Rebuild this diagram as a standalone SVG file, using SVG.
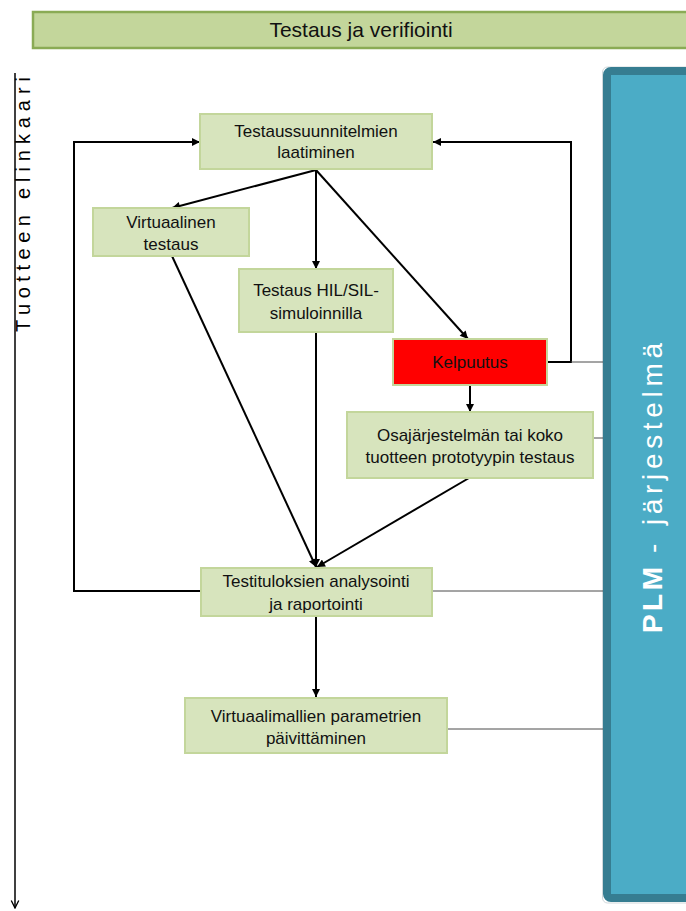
<svg xmlns="http://www.w3.org/2000/svg" width="686" height="911" viewBox="0 0 686 911">
  <style>
    .node rect { fill: #d7e4bd; stroke: #c3d69b; stroke-width: 2; }
    .node text, .hdr text { font-family: "Liberation Sans", Arial, sans-serif; font-size: 17px; fill: #111; text-anchor: middle; }
    .hdr text { font-size: 21px; }
    .flow { fill: none; stroke: #000; stroke-width: 2; }
    .thin { fill: none; stroke: #4a4a4a; stroke-width: 1; }
    .axis { fill: none; stroke: #000; stroke-width: 1.5; }
    .side { font-family: "Liberation Sans", Arial, sans-serif; }
  </style>
  <defs>
    <marker id="arr" viewBox="0 0 10 10" refX="10" refY="5" markerWidth="9" markerHeight="8" markerUnits="userSpaceOnUse" orient="auto">
      <path d="M0,0 L10,5 L0,10 z" fill="#000"/>
    </marker>
    <marker id="vee" viewBox="0 0 12 12" refX="11" refY="6" markerWidth="9" markerHeight="12" markerUnits="userSpaceOnUse" orient="auto">
      <path d="M1,1 L11,6 L1,11" fill="none" stroke="#000" stroke-width="1.8"/>
    </marker>
  </defs>

  <rect width="686" height="911" fill="#ffffff"/>

  <!-- header bar -->
  <g id="header" class="hdr">
    <rect x="33" y="12" width="670" height="36" fill="#c3d69b" stroke="#8aab55" stroke-width="2.5"/>
    <text x="361" y="37">Testaus ja verifiointi</text>
  </g>

  <!-- product lifecycle axis -->
  <g id="lifecycle">
    <line class="axis" x1="15" y1="73" x2="15" y2="908" marker-end="url(#vee)"/>
    <g class="side" transform="translate(30,332) rotate(-90)" font-size="20" fill="#000">
      <text x="0" y="0" textLength="117" lengthAdjust="spacing">Tuotteen</text>
      <text x="133" y="0" textLength="122" lengthAdjust="spacing">elinkaari</text>
    </g>
  </g>

  <!-- PLM system panel -->
  <g id="plm">
    <rect x="602.5" y="67" width="100" height="836" rx="5" fill="none" stroke="#d0d8db" stroke-width="1"/>
    <rect x="607" y="71" width="100" height="827" rx="4" fill="#4bacc6" stroke="#367d91" stroke-width="8"/>
    <g class="side" transform="translate(662,633) rotate(-90)" fill="#ffffff" font-size="28">
      <text x="0" y="0" font-weight="bold" textLength="66" lengthAdjust="spacing">PLM</text>
      <text x="80" y="0">-</text>
      <text x="108" y="0" textLength="182" lengthAdjust="spacing">järjestelmä</text>
    </g>
  </g>

  <!-- connectors -->
  <g id="connectors">
    <line class="flow" x1="316" y1="170" x2="172" y2="208" marker-end="url(#arr)"/>
    <line class="flow" x1="316" y1="170" x2="316" y2="269" marker-end="url(#arr)"/>
    <line class="flow" x1="316" y1="170" x2="468" y2="339" marker-end="url(#arr)"/>
    <line class="flow" x1="172" y1="256" x2="316" y2="567" marker-end="url(#arr)"/>
    <line class="flow" x1="316" y1="332" x2="316" y2="567" marker-end="url(#arr)"/>
    <line class="flow" x1="469" y1="478" x2="317" y2="567" marker-end="url(#arr)"/>
    <line class="flow" x1="470" y1="386" x2="470" y2="412" marker-end="url(#arr)"/>
    <polyline class="flow" points="547,362 571,362 571,142 433,142" marker-end="url(#arr)"/>
    <polyline class="flow" points="201,591 74,591 74,142 200,142" marker-end="url(#arr)"/>
    <line class="flow" x1="316" y1="616" x2="316" y2="697" marker-end="url(#arr)"/>
    <line class="thin" x1="571" y1="362" x2="603" y2="362"/>
    <line class="thin" x1="593" y1="438" x2="603" y2="438"/>
    <line class="thin" x1="432" y1="591" x2="603" y2="591"/>
    <line class="thin" x1="447" y1="729" x2="603" y2="729"/>
  </g>

  <g id="plan" class="node">
    <rect x="200" y="114" width="232" height="55"/>
    <text x="316" y="137">Testaussuunnitelmien</text>
    <text x="316" y="158">laatiminen</text>
  </g>
  <g id="virtual" class="node">
    <rect x="93" y="208" width="156" height="48"/>
    <text x="171" y="228">Virtuaalinen</text>
    <text x="171" y="250">testaus</text>
  </g>
  <g id="hilsil" class="node">
    <rect x="239" y="269" width="154" height="63"/>
    <text x="316" y="296">Testaus HIL/SIL-</text>
    <text x="316" y="319">simuloinnilla</text>
  </g>
  <g id="qualification" class="node">
    <rect x="393" y="339" width="154" height="46" style="fill:#ff0000"/>
    <text x="470" y="368">Kelpuutus</text>
  </g>
  <g id="prototype" class="node">
    <rect x="347" y="412" width="246" height="66"/>
    <text x="470" y="441">Osajärjestelmän tai koko</text>
    <text x="470" y="463">tuotteen prototyypin testaus</text>
  </g>
  <g id="analysis" class="node">
    <rect x="201" y="568" width="231" height="48"/>
    <text x="316" y="587">Testituloksien analysointi</text>
    <text x="316" y="610">ja raportointi</text>
  </g>
  <g id="update" class="node">
    <rect x="185" y="698" width="262" height="55"/>
    <text x="316" y="722">Virtuaalimallien parametrien</text>
    <text x="316" y="744">päivittäminen</text>
  </g>
</svg>
